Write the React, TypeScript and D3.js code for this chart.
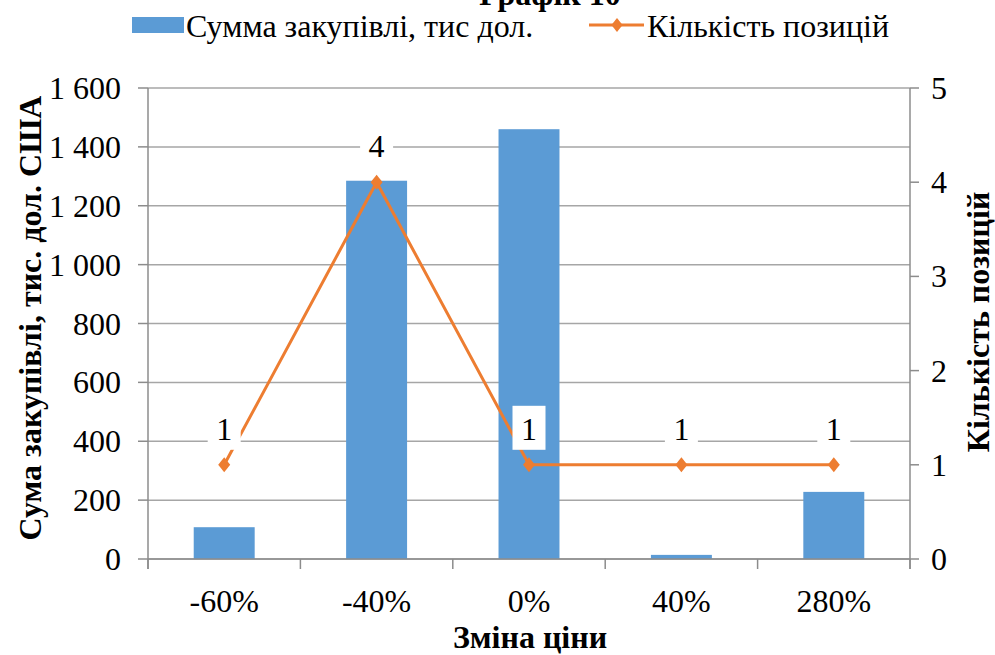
import React from "react";
import * as d3 from "d3";

const categories = ["-60%", "-40%", "0%", "40%", "280%"];
const amounts = [108, 1285, 1460, 14, 228];
const counts = [1, 4, 1, 1, 1];
const leftTicks = [0, 200, 400, 600, 800, 1000, 1200, 1400, 1600];
const rightTicks = [0, 1, 2, 3, 4, 5];
const barName = "Сумма закупівлі, тис дол.";
const lineName = "Кількість позицій";
const titleText = "Графік 10";
const yLeftTitle = "Сума закупівлі, тис. дол. США";
const yRightTitle = "Кількість позицій";
const xTitle = "Зміна ціни";

const W = 995, H = 655;
const plot = { left: 148, right: 910, top: 88, bottom: 559 };
const FONT = "Liberation Serif";
const FS = 32;
const BLUE = "#5B9BD5";
const ORANGE = "#ED7D31";
const GRID = "#A6A6A6";
const AXIS = "#8C8C8C";

const fmt = (v: number) => d3.format(",")(v).replace(/,/g, " ");

export default function App() {
  const x = d3.scaleBand<string>().domain(categories).range([plot.left, plot.right]).paddingInner(0.6).paddingOuter(0.3);
  const band = d3.scaleBand<string>().domain(categories).range([plot.left, plot.right]);
  const yL = d3.scaleLinear().domain([0, 1600]).range([plot.bottom, plot.top]);
  const yR = d3.scaleLinear().domain([0, 5]).range([plot.bottom, plot.top]);
  const cx = (c: string) => (band(c) as number) + band.bandwidth() / 2;
  const line = d3.line<number>().x((_, i) => cx(categories[i])).y((d) => yR(d));
  const diamond = (px: number, py: number, s: number) => `M${px},${py - s}L${px + s * 0.8},${py}L${px},${py + s}L${px - s * 0.8},${py}Z`;
  const boundaries = [plot.left, ...categories.map((c) => (band(c) as number) + band.bandwidth())];

  return (
    <svg width={W} height={H} style={{ position: "absolute", left: 0, top: 0, background: "#fff" }}>
      <text x={550} y={5} textAnchor="middle" fontSize={FS} fontWeight="bold" fontFamily={FONT}>{titleText}</text>
      {/* legend */}
      <rect x={132} y={17} width={52} height={16} fill={BLUE} />
      <text x={186} y={37} fontSize={FS} fontFamily={FONT}>{barName}</text>
      <line x1={589} x2={644} y1={25} y2={25} stroke={ORANGE} strokeWidth={3} />
      <path d={diamond(617, 25, 7)} fill={ORANGE} />
      <text x={647} y={37} fontSize={FS} fontFamily={FONT}>{lineName}</text>

      {/* grid */}
      {leftTicks.map((t) => (
        <line key={"g" + t} x1={plot.left} x2={plot.right} y1={yL(t)} y2={yL(t)} stroke={GRID} strokeWidth={1.5} />
      ))}
      {/* bars */}
      {amounts.map((v, i) => (
        <rect key={"b" + i} x={x(categories[i])} y={yL(v)} width={x.bandwidth()} height={plot.bottom - yL(v)} fill={BLUE} />
      ))}
      {/* axes */}
      <line x1={plot.left} x2={plot.left} y1={plot.top} y2={plot.bottom + 10} stroke={AXIS} strokeWidth={1.5} />
      <line x1={plot.right} x2={plot.right} y1={plot.top} y2={plot.bottom + 10} stroke={AXIS} strokeWidth={1.5} />
      <line x1={plot.left} x2={plot.right} y1={plot.bottom} y2={plot.bottom} stroke={AXIS} strokeWidth={1.5} />
      {boundaries.map((b, i) => (
        <line key={"xt" + i} x1={b} x2={b} y1={plot.bottom} y2={plot.bottom + 10} stroke={AXIS} strokeWidth={1.5} />
      ))}
      {leftTicks.map((t) => (
        <g key={"lt" + t}>
          <line x1={plot.left - 10} x2={plot.left} y1={yL(t)} y2={yL(t)} stroke={AXIS} strokeWidth={1.5} />
          <text x={121} y={yL(t) + 11} textAnchor="end" fontSize={FS} fontFamily={FONT}>{fmt(t)}</text>
        </g>
      ))}
      {rightTicks.map((t) => (
        <g key={"rt" + t}>
          <line x1={plot.right} x2={plot.right + 9} y1={yR(t)} y2={yR(t)} stroke={AXIS} strokeWidth={1.5} />
          <text x={931} y={yR(t) + 11} textAnchor="start" fontSize={FS} fontFamily={FONT}>{t}</text>
        </g>
      ))}
      {categories.map((c) => (
        <text key={"xl" + c} x={cx(c)} y={612} textAnchor="middle" fontSize={FS} fontFamily={FONT}>{c}</text>
      ))}

      {/* line */}
      <path d={line(counts) as string} fill="none" stroke={ORANGE} strokeWidth={3} />
      {counts.map((v, i) => (
        <path key={"m" + i} d={diamond(cx(categories[i]), yR(v), 7.5)} fill={ORANGE} />
      ))}
      {/* data labels */}
      {counts.map((v, i) => (
        <g key={"dl" + i}>
          <rect x={cx(categories[i]) - 16.5} y={yR(v) - 59} width={33} height={44} fill="#fff" />
          <text x={cx(categories[i])} y={yR(v) - 25} textAnchor="middle" fontSize={FS} fontFamily={FONT}>{v}</text>
        </g>
      ))}

      {/* axis titles */}
      <text transform={`translate(41, 318) rotate(-90)`} textAnchor="middle" fontSize={FS} fontWeight="bold" fontFamily={FONT}>{yLeftTitle}</text>
      <text transform={`translate(989, 322) rotate(-90)`} textAnchor="middle" fontSize={FS} fontWeight="bold" fontFamily={FONT}>{yRightTitle}</text>
      <text x={530} y={648} textAnchor="middle" fontSize={FS} fontWeight="bold" fontFamily={FONT}>{xTitle}</text>
    </svg>
  );
}
